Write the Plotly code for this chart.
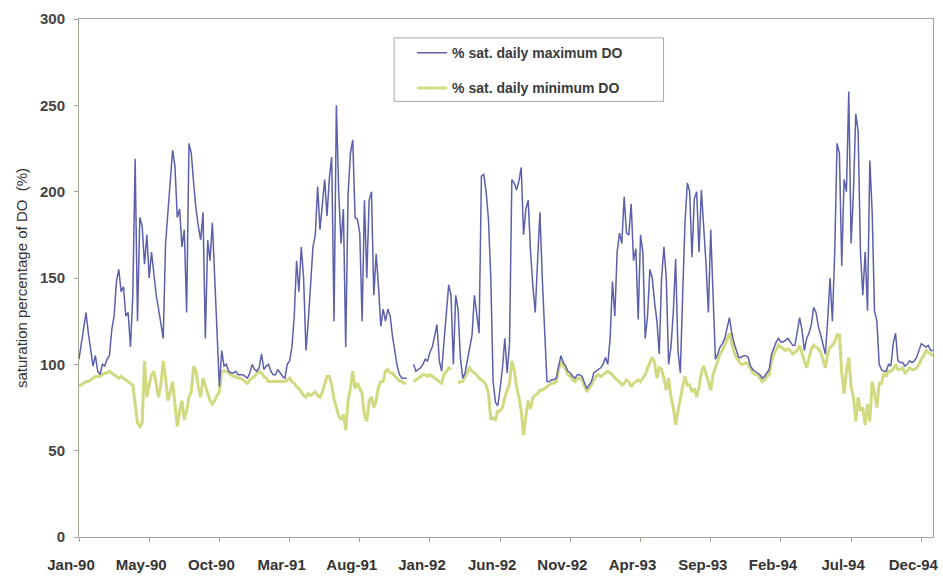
import pandas as pd
import plotly.graph_objects as go

# Daily dissolved-oxygen saturation (%), sampled every 5 days from 1 Jan 1990.
max_1990 = [103, 112, 120, 130, 118, 108, 99, 105, 96, 94,
            100, 99, 103, 105, 120, 128, 148, 155, 142, 145,
            128, 130, 110, 140, 219, 125, 185, 180, 158, 175,
            150, 165, 152, 140, 132, 122, 115, 170, 190, 205,
            224, 215, 185, 190, 168, 178, 130, 228, 222, 205,
            190, 180, 172, 188, 115, 172, 160, 182, 153, 125,
            87, 108, 99, 100, 96, 95, 95, 96, 94, 94,
            94, 93, 92]
max_1991 = [95, 100, 97, 96, 98, 106, 97, 99, 100, 96,
            94, 94, 97, 95, 93, 92, 100, 102, 110, 128,
            160, 142, 168, 150, 108, 125, 150, 168, 175, 203,
            178, 192, 207, 186, 208, 220, 125, 250, 200, 170,
            190, 110, 198, 222, 230, 185, 184, 176, 125, 195,
            150, 195, 200, 140, 164, 145, 122, 132, 125, 132,
            128, 116, 107, 99, 94, 92, 92, 92, None, None,
            100, 96, 97]
max_1992 = [98, 100, 103, 102, 107, 110, 117, 123, 102, 96,
            113, 130, 146, 140, 100, 140, 132, 104, 92, 95,
            103, 110, 117, 140, 128, 118, 209, 210, 200, 184,
            150, 90, 78, 76, 86, 98, 115, 95, 112, 207,
            205, 201, 206, 214, 175, 190, 195, 165, 145, 130,
            160, 188, 150, 118, 90, 90, 91, 91, 92, 99,
            105, 101, 99, 96, 95, 93, 92, 94, 94, 93,
            89, 86, 88]
max_1993 = [90, 95, 96, 97, 98, 100, 104, 100, 115, 148,
            128, 165, 176, 170, 197, 176, 175, 193, 160, 167,
            126, 175, 165, 115, 128, 155, 150, 136, 125, 106,
            150, 168, 150, 100, 110, 130, 161, 108, 95, 140,
            182, 205, 200, 162, 196, 200, 165, 201, 180, 158,
            130, 178, 140, 103, 106, 110, 112, 115, 121, 127,
            118, 112, 108, 104, 104, 105, 105, 104, 99, 97,
            96, 95, 94]
max_1994 = [92, 93, 95, 97, 106, 110, 113, 115, 113, 113,
            114, 115, 113, 111, 111, 118, 127, 120, 108, 115,
            118, 123, 133, 130, 122, 117, 111, 106, 126, 150,
            125, 165, 228, 222, 157, 207, 200, 258, 170, 200,
            245, 235, 165, 140, 165, 131, 218, 188, 131, 125,
            100, 97, 96, 96, 100, 99, 112, 118, 102, 101,
            101, 99, 100, 102, 101, 102, 104, 108, 112, 111,
            110, 111, 108, 108]

min_1990 = [88, 88, 89, 90, 90, 91, 92, 93, 93, 93,
            94, 95, 95, 96, 95, 94, 93, 92, 93, 92,
            91, 90, 89, 88, 77, 66, 64, 66, 102, 81,
            88, 94, 96, 88, 81, 88, 102, 92, 79, 84,
            90, 77, 64, 73, 79, 68, 73, 81, 84, 99,
            96, 87, 81, 92, 88, 84, 79, 77, 79, 82,
            84, 96, 96, 96, 95, 94, 93, 93, 92, 92,
            91, 90, 89]
min_1991 = [91, 92, 93, 95, 96, 95, 93, 92, 90, 90,
            90, 90, 90, 90, 90, 90, 91, 92, 90, 89,
            87, 86, 84, 82, 81, 83, 82, 83, 84, 82,
            81, 84, 88, 93, 93, 88, 80, 75, 70, 68,
            71, 62, 79, 86, 96, 86, 89, 86, 83, 70,
            67, 79, 81, 75, 79, 87, 90, 90, 96, 97,
            95, 95, 93, 92, 90, 90, 89, 89, None, None,
            90, 91, 92]
min_1992 = [93, 94, 94, 93, 94, 93, 92, 91, 90, 89,
            94, 96, 98, 97, None, None, 89, 90, 90, 93,
            96, 98, 96, 95, 94, 92, 91, 90, 88, 83,
            68, 69, 68, 73, 73, 75, 81, 85, 89, 102,
            97, 87, 81, 73, 59, 70, 79, 74, 81, 82,
            83, 85, 85, 86, 87, 88, 89, 89, 90, 97,
            102, 99, 97, 94, 93, 91, 90, 92, 92, 91,
            87, 84, 86]
min_1993 = [88, 91, 93, 94, 93, 94, 95, 96, 95, 94,
            92, 91, 90, 88, 89, 91, 90, 87, 89, 90,
            91, 90, 92, 94, 98, 101, 104, 101, 92, 98,
            97, 92, 85, 92, 81, 75, 65, 73, 81, 87,
            93, 88, 88, 84, 86, 81, 87, 95, 99, 94,
            89, 85, 94, 98, 102, 106, 108, 111, 115, 118,
            112, 107, 104, 102, 100, 100, 101, 100, 97, 95,
            94, 94, 92]
min_1994 = [90, 91, 93, 94, 102, 106, 109, 111, 110, 109,
            108, 109, 108, 106, 107, 108, 111, 106, 102, 98,
            104, 109, 111, 110, 109, 107, 102, 98, 106, 110,
            111, 113, 117, 117, 95, 83, 96, 104, 87, 81,
            67, 81, 73, 75, 65, 77, 67, 90, 83, 75,
            89, 89, 95, 93, 96, 96, 97, 100, 97, 97,
            98, 95, 96, 98, 97, 97, 98, 100, 103, 105,
            108, 107, 106, 105]

tick_labels = ["Jan-90", "May-90", "Oct-90", "Mar-91", "Aug-91", "Jan-92", "Jun-92",
               "Nov-92", "Apr-93", "Sep-93", "Feb-94", "Jul-94", "Dec-94"]
y_ticks = [0, 50, 100, 150, 200, 250, 300]

max_do = max_1990 + max_1991 + max_1992 + max_1993 + max_1994
min_do = min_1990 + min_1991 + min_1992 + min_1993 + min_1994
dates = pd.date_range("1990-01-01", periods=len(max_do), freq="5D")
tick_dates = pd.date_range("1990-01-01", periods=len(tick_labels), freq="150D")

FONT = "Liberation Sans, Arial, Helvetica, sans-serif"
AXIS_COLOR = "#a3a396"

fig = go.Figure()
fig.add_trace(go.Scatter(
    x=dates, y=min_do, mode="lines", name="% sat. daily minimum DO",
    legendgroup="min", legendrank=2,
    line=dict(color="#cdd773", width=3), opacity=0.9, connectgaps=False,
))
fig.add_trace(go.Scatter(
    x=dates, y=max_do, mode="lines", name="% sat. daily maximum DO",
    legendgroup="max", legendrank=1,
    line=dict(color="#5c60aa", width=1.5), connectgaps=False,
))

fig.update_layout(
    width=943, height=578,
    margin=dict(l=79, r=5, t=19, b=37),
    paper_bgcolor="white", plot_bgcolor="white",
    font=dict(family=FONT, color="#333333"),
    showlegend=True,
    legend=dict(
        x=0.39, y=0.965, xanchor="left", yanchor="top",
        bgcolor="rgba(0,0,0,0)", borderwidth=0,
        font=dict(family=FONT, size=14, color="#3a3a3a", weight="bold"),
        traceorder="grouped", tracegroupgap=14, itemwidth=30,
    ),
    shapes=[dict(
        type="rect", xref="paper", yref="paper",
        x0=0.369, x1=0.6845, y0=0.841, y1=0.9636,
        line=dict(color="#a8a8a8", width=1), fillcolor="rgba(0,0,0,0)",
        layer="below",
    )],
)

fig.update_xaxes(
    type="date", range=["1990-01-01", "1994-12-31"],
    tickmode="array", tickvals=tick_dates, ticktext=tick_labels,
    showline=True, linecolor=AXIS_COLOR, linewidth=1, mirror=True,
    ticks="outside", ticklen=4, tickcolor=AXIS_COLOR,
    ticklabelstandoff=10, ticklabelshift=-8, ticklabeloverflow="allow",
    tickfont=dict(family=FONT, size=15, color="#333333", weight="bold"),
    showgrid=False, zeroline=False,
)
fig.update_yaxes(
    range=[0, 300], tickmode="array", tickvals=y_ticks,
    showline=True, linecolor=AXIS_COLOR, linewidth=1, mirror=True,
    ticks="outside", ticklen=4, tickcolor=AXIS_COLOR,
    ticklabelstandoff=6,
    tickfont=dict(family=FONT, size=15, color="#444444", weight="bold"),
    title=dict(text="saturation percentage of DO  (%)", standoff=8,
               font=dict(family=FONT, size=15, color="#333333")),
    showgrid=False, zeroline=False,
)

fig.write_html("out.html")
